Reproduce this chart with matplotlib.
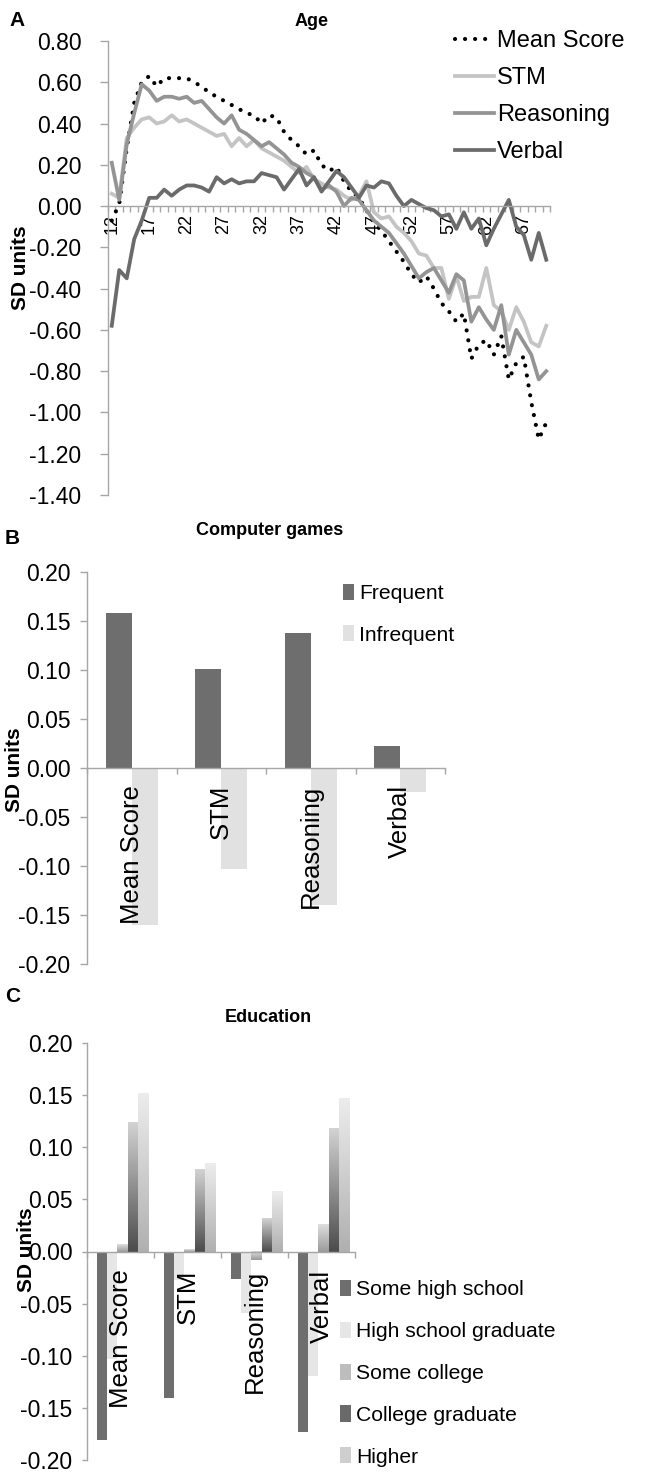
import numpy as np
import matplotlib
matplotlib.use("Agg")
import matplotlib.pyplot as plt
from matplotlib.colors import LinearSegmentedColormap
from matplotlib.patches import Patch
from matplotlib.ticker import FormatStrFormatter

plt.rcParams["axes.unicode_minus"] = False
NARROW = ["Liberation Sans Narrow", "Liberation Sans", "DejaVu Sans"]
REG = ["Liberation Sans", "DejaVu Sans"]
plt.rcParams["font.family"] = NARROW

# ---- panel A: age ----
ages = list(range(12, 71))
mean_score = [-0.07, 0.01, 0.28, 0.50, 0.60, 0.63, 0.58, 0.62, 0.62, 0.62,
              0.62, 0.60, 0.58, 0.55, 0.53, 0.51, 0.49, 0.47, 0.45, 0.44,
              0.40, 0.44, 0.43, 0.36, 0.32, 0.29, 0.25, 0.27, 0.20, 0.17,
              0.19, 0.12, 0.07, 0.04, -0.02, -0.08, -0.12, -0.17, -0.22, -0.27,
              -0.33, -0.37, -0.34, -0.40, -0.47, -0.51, -0.56, -0.52, -0.74, -0.67,
              -0.65, -0.72, -0.63, -0.84, -0.76, -0.73, -0.95, -1.13, -1.05]
stm = [0.06, 0.04, 0.33, 0.38, 0.42, 0.43, 0.40, 0.41, 0.44, 0.41,
       0.42, 0.40, 0.38, 0.36, 0.34, 0.35, 0.29, 0.33, 0.29, 0.32,
       0.28, 0.26, 0.24, 0.22, 0.19, 0.16, 0.19, 0.13, 0.11, 0.09,
       0.08, 0.05, 0.03, 0.05, 0.12, -0.03, -0.06, -0.05, -0.10, -0.13,
       -0.17, -0.23, -0.24, -0.30, -0.30, -0.45, -0.34, -0.46, -0.44, -0.44,
       -0.30, -0.48, -0.51, -0.60, -0.49, -0.56, -0.66, -0.68, -0.58]
reasoning = [0.21, 0.03, 0.30, 0.45, 0.59, 0.56, 0.51, 0.53, 0.53, 0.52,
             0.53, 0.50, 0.51, 0.47, 0.43, 0.40, 0.44, 0.37, 0.35, 0.32,
             0.29, 0.31, 0.28, 0.25, 0.21, 0.19, 0.16, 0.14, 0.08, 0.10,
             0.07, 0.00, 0.04, 0.03, -0.02, -0.07, -0.10, -0.13, -0.18, -0.23,
             -0.29, -0.35, -0.32, -0.30, -0.36, -0.42, -0.33, -0.36, -0.56, -0.49,
             -0.55, -0.60, -0.48, -0.72, -0.60, -0.66, -0.72, -0.84, -0.80]
verbal = [-0.58, -0.31, -0.35, -0.16, -0.07, 0.04, 0.04, 0.08, 0.05, 0.08,
          0.10, 0.10, 0.09, 0.07, 0.14, 0.11, 0.13, 0.11, 0.12, 0.12,
          0.16, 0.15, 0.14, 0.08, 0.13, 0.18, 0.10, 0.14, 0.07, 0.12,
          0.17, 0.14, 0.09, 0.04, 0.10, 0.09, 0.12, 0.11, 0.05, 0.00,
          0.03, 0.01, -0.01, -0.02, -0.05, -0.04, -0.11, -0.03, -0.11, -0.06,
          -0.19, -0.11, -0.04, 0.03, -0.10, -0.14, -0.26, -0.13, -0.26]

# ---- panel B: computer games ----
domains = ["Mean Score", "STM", "Reasoning", "Verbal"]
games_frequent = [0.158, 0.101, 0.138, 0.022]
games_infrequent = [-0.160, -0.103, -0.140, -0.024]

# ---- panel C: education ----
edu_groups = ["Some high school", "High school graduate", "Some college",
              "College graduate", "Higher"]
edu_some_hs = [-0.181, -0.141, -0.026, -0.173]
edu_hs_grad = [-0.103, -0.027, -0.059, -0.119]
edu_some_college = [0.007, 0.002, -0.008, 0.026]
edu_college_grad = [0.124, 0.079, 0.032, 0.118]
edu_higher = [0.152, 0.085, 0.058, 0.147]

W, H = 646, 1472
GRID = "#a6a6a6"

fig = plt.figure(figsize=(W / 100, H / 100), dpi=100)


def box(x0, y0, x1, y1):
    return [x0 / W, 1 - y1 / H, (x1 - x0) / W, (y1 - y0) / H]


def ticks(lo, hi, step):
    return np.round(np.arange(lo, hi + step / 2, step), 2) + 0.0


def excel_style(ax, ypad, ylen):
    for s in ["top", "right"]:
        ax.spines[s].set_visible(False)
    for s in ["left", "bottom"]:
        ax.spines[s].set_color(GRID)
        ax.spines[s].set_linewidth(1.0)
    ax.spines["bottom"].set_position(("data", 0))
    ax.tick_params(axis="y", color=GRID, labelcolor="black", length=ylen,
                   width=1, labelsize=16.5, pad=ypad)
    ax.yaxis.set_major_formatter(FormatStrFormatter("%.2f"))


def sd_label(x, y):
    fig.text(x / W, 1 - y / H, "SD units", rotation=90, ha="center",
             va="center", fontsize=15, fontweight="bold", family=REG)


def title(x, y, s):
    fig.text(x / W, 1 - y / H, s, ha="center", va="center", fontsize=13,
             fontweight="bold", family=REG)


def letter(x, y, s):
    fig.text(x / W, 1 - y / H, s, ha="center", va="center", fontsize=15,
             fontweight="bold", family=REG)


# ===== A =====
axA = fig.add_axes(box(108, 41, 550, 495))
axA.plot(ages, mean_score, color="black", lw=3.0, ls=(0, (0.01, 2.4)),
         dash_capstyle="round", label="Mean Score")
axA.plot(ages, stm, color="#c4c4c4", lw=2.7, label="STM")
axA.plot(ages, reasoning, color="#949494", lw=2.7, label="Reasoning")
axA.plot(ages, verbal, color="#6b6b6b", lw=2.7, label="Verbal")
axA.set_xlim(11.5, 70.5)
axA.set_ylim(-1.4, 0.8)
axA.set_yticks(ticks(-1.4, 0.8, 0.2))
excel_style(axA, 13, 6)
axA.set_xticks(ages[::5])
axA.set_xticklabels([str(a) for a in ages[::5]], rotation=90, fontsize=13)
axA.set_xticks(np.arange(11.5, 71, 1.0), minor=True)
axA.tick_params(axis="x", which="major", length=0, pad=6)
axA.tick_params(axis="x", which="minor", length=4.5, color=GRID, width=1)
axA.legend(loc="upper left", bbox_to_anchor=(455 / W, 1 - 30 / H),
           bbox_transform=fig.transFigure, frameon=False, fontsize=17,
           handlelength=1.65, handletextpad=0.12, labelspacing=0.64,
           borderpad=0, borderaxespad=0)
letter(17, 20, "A")
title(312, 22, "Age")
sd_label(21, 268)

# ===== B =====
axB = fig.add_axes(box(87, 572, 445, 964))
x = np.arange(len(domains))
bw = 0.29
axB.bar(x - bw / 2, games_frequent, bw, color="#6e6e6e", label="Frequent")
axB.bar(x + bw / 2, games_infrequent, bw, color="#e1e1e1", label="Infrequent")
axB.set_xlim(-0.5, 3.5)
axB.set_ylim(-0.2, 0.2)
axB.set_yticks(ticks(-0.2, 0.2, 0.05))
excel_style(axB, 7, 5)
axB.set_xticks(x)
axB.set_xticklabels(domains, rotation=90, fontsize=18.5)
axB.set_xticks(np.arange(-0.5, 4, 1.0), minor=True)
axB.tick_params(axis="x", which="major", length=0, pad=12)
axB.tick_params(axis="x", which="minor", length=4.5, color=GRID, width=1)
axB.legend(loc="upper left", bbox_to_anchor=(343 / W, 1 - 584 / H),
           bbox_transform=fig.transFigure, frameon=False, fontsize=15.2,
           handlelength=0.5, handleheight=0.8, handletextpad=0.25,
           labelspacing=1.03, borderpad=0, borderaxespad=0)
letter(12, 538, "B")
title(270, 531, "Computer games")
sd_label(15, 770)

# ===== C =====
axC = fig.add_axes(box(87, 1043, 355, 1460))
cw = 0.15
series_c = [edu_some_hs, edu_hs_grad, edu_some_college, edu_college_grad, edu_higher]
fills = [("#6e6e6e", None), ("#e6e6e6", None), ("#dedede", "#9a9a9a"),
         ("#d2d2d2", "#4c4c4c"), ("#ececec", "#b0b0b0")]
legend_colors = ["#6e6e6e", "#e6e6e6", "#bdbdbd", "#6a6a6a", "#cfcfcf"]
for k, (vals, (top, bot)) in enumerate(zip(series_c, fills)):
    bars = axC.bar(x + (k - 2) * cw + 0.03, vals, cw,
                   color=top if bot is None else "none", edgecolor="none", zorder=2)
    if bot is not None:
        cmap = LinearSegmentedColormap.from_list("g%d" % k, [bot, top])
        grad = np.linspace(0, 1, 64).reshape(-1, 1)
        for r in bars:
            x0, w = r.get_x(), r.get_width()
            y0, y1 = sorted([r.get_y(), r.get_y() + r.get_height()])
            axC.imshow(grad, extent=[x0, x0 + w, y0, y1], origin="lower",
                       aspect="auto", cmap=cmap, zorder=2)
handles = [Patch(facecolor=c, edgecolor="none") for c in legend_colors]
axC.set_xlim(-0.5, 3.5)
axC.set_ylim(-0.2, 0.2)
axC.set_yticks(ticks(-0.2, 0.2, 0.05))
excel_style(axC, 7, 3.6)
axC.set_xticks(x)
axC.set_xticklabels(domains, rotation=90, fontsize=18.5)
axC.set_xticks(np.arange(-0.5, 4, 1.0), minor=True)
axC.tick_params(axis="x", which="major", length=0, pad=13)
axC.tick_params(axis="x", which="minor", length=4.5, color=GRID, width=1)
axC.xaxis.set_zorder(5)
axC.legend(handles, edu_groups, loc="upper left",
           bbox_to_anchor=(340 / W, 1 - 1280 / H),
           bbox_transform=fig.transFigure, frameon=False, fontsize=15.2,
           handlelength=0.5, handleheight=0.8, handletextpad=0.25,
           labelspacing=1.06, borderpad=0, borderaxespad=0)
letter(13, 997, "C")
title(268, 1017, "Education")
sd_label(27, 1250)

fig.savefig("out.png", dpi=100)
